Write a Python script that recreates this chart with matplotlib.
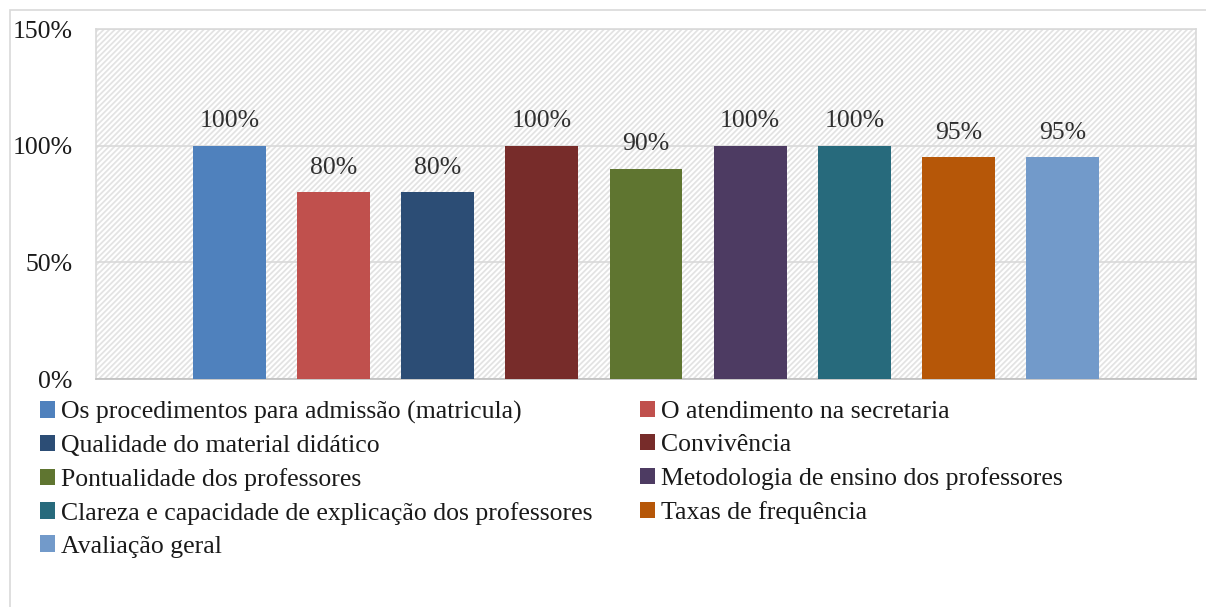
import matplotlib
matplotlib.use("Agg")
import matplotlib.pyplot as plt
from matplotlib.patches import Rectangle, Patch

categories = [
    "Os procedimentos para admissão (matricula)",
    "O atendimento na secretaria",
    "Qualidade do material didático",
    "Convivência",
    "Pontualidade dos professores",
    "Metodologia de ensino dos professores",
    "Clareza e capacidade de explicação dos professores",
    "Taxas de frequência",
    "Avaliação geral",
]
values = [100, 80, 80, 100, 90, 100, 100, 95, 95]
colors = ["#4f81bd", "#c0504d", "#2c4d75", "#772c2a", "#5f7530",
          "#4d3b62", "#276a7c", "#b65708", "#729aca"]
yticks = [0, 50, 100, 150]
ytick_labels = ["0%", "50%", "100%", "150%"]

plt.rcParams['font.family'] = ['Liberation Serif', 'DejaVu Serif']
plt.rcParams['hatch.color'] = '#e3e3e3'
plt.rcParams['hatch.linewidth'] = 1.3

W, H = 1206, 607
fig = plt.figure(figsize=(W / 100, H / 100), dpi=100)

# outer chart border (cropped at right/bottom)
fig.patches.append(Rectangle((10 / W, -0.05), 1.1, (H - 10) / H + 0.05,
                             transform=fig.transFigure, fill=False,
                             edgecolor='#d9d9d9', linewidth=1.2))

left, right, top, bottom = 96, 1196, 29, 379
ax = fig.add_axes([left / W, 1 - bottom / H, (right - left) / W, (bottom - top) / H])
ax.patch.set_facecolor('white')
ax.patch.set_hatch('//////')
ax.patch.set_edgecolor('#e3e3e3')

x = list(range(len(values)))
ax.bar(x, values, width=0.70, color=colors, zorder=3)
for xi, v in zip(x, values):
    ax.text(xi, v + 5.8, f"{v}%", ha='center', va='bottom', fontsize=18.5,
            color='#303030', zorder=4)

ax.set_xlim(-1.28, len(values) - 1 + 1.28)
ax.set_ylim(0, 150)
ax.set_yticks(yticks)
ax.set_yticklabels(ytick_labels, fontsize=18.5, color='#1a1a1a')
ax.set_xticks([])
ax.tick_params(axis='y', length=0, pad=17)
ax.yaxis.grid(True, color='#d9d9d9', linewidth=1.2, zorder=1)
ax.set_axisbelow(True)
for s in ['top', 'right', 'left']:
    ax.spines[s].set_color('#d9d9d9')
    ax.spines[s].set_linewidth(1.2)
ax.spines['bottom'].set_color('#bfbfbf')
ax.spines['bottom'].set_linewidth(1.2)

handles = [Patch(facecolor=c, edgecolor='none') for c in colors]
legkw = dict(loc='upper left', frameon=False, fontsize=18.5,
             handlelength=0.6, handleheight=0.6, handletextpad=0.2,
             labelspacing=0.42, borderaxespad=0, borderpad=0)
col1 = list(range(0, len(categories), 2))
col2 = list(range(1, len(categories), 2))
leg1 = fig.legend([handles[i] for i in col1], [categories[i] for i in col1],
                  bbox_to_anchor=(40 / W, 1 - 401 / H), **legkw)
leg2 = fig.legend([handles[i] for i in col2], [categories[i] for i in col2],
                  bbox_to_anchor=(640 / W, 1 - 401 / H), **legkw)
for leg in (leg1, leg2):
    for t in leg.get_texts():
        t.set_color('#1a1a1a')

fig.savefig("out.png", dpi=100)
